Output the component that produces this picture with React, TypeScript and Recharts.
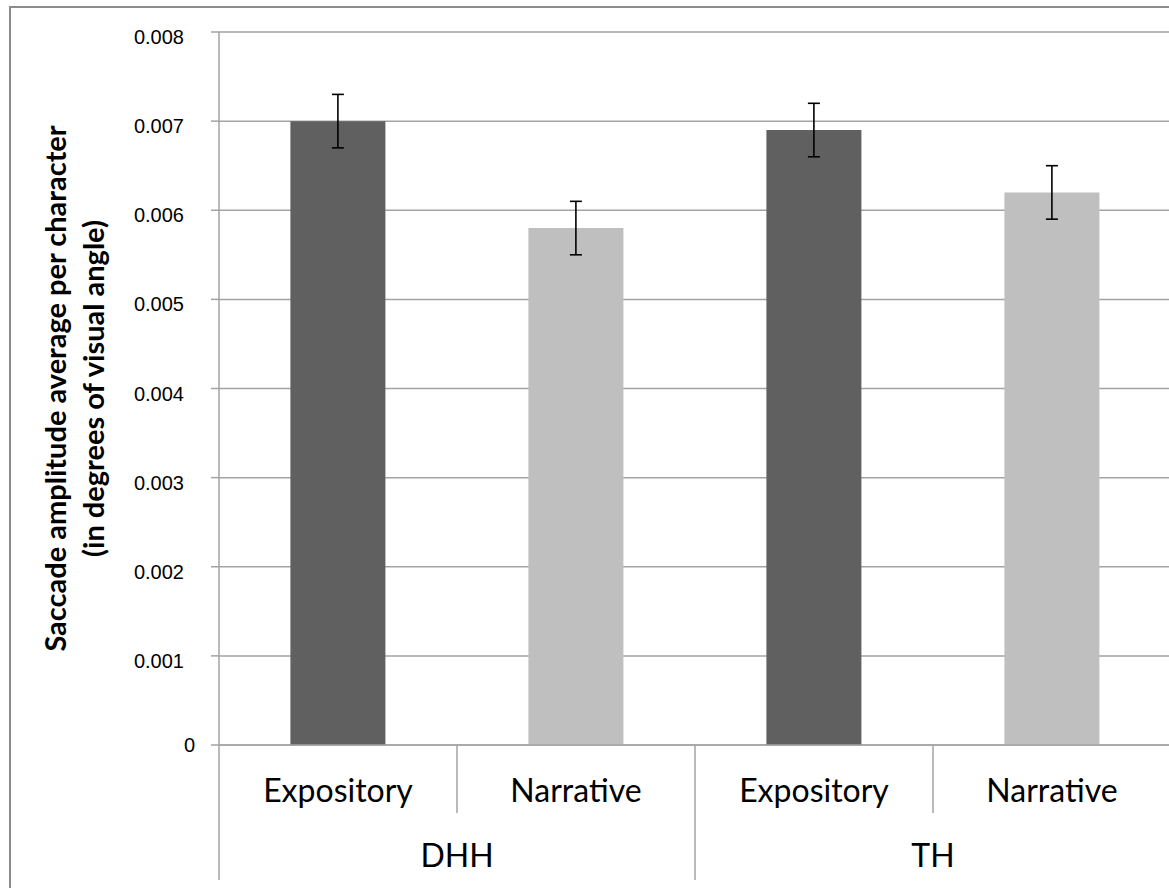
import React from 'react';
import { BarChart, Bar, XAxis, YAxis, CartesianGrid, ErrorBar, Cell } from 'recharts';

const groups = ['DHH', 'DHH', 'TH', 'TH'];
const categories = ['Expository', 'Narrative', 'Expository', 'Narrative'];
const values = [0.007, 0.0058, 0.0069, 0.0062];
const errors = [0.0003, 0.0003, 0.0003, 0.0003];
const yTicks = [0, 0.001, 0.002, 0.003, 0.004, 0.005, 0.006, 0.007, 0.008];
const yLabelLines = ['Saccade amplitude average per character', '(in degrees of visual angle)'];
const typeColors: Record<string, string> = { Expository: '#606060', Narrative: '#bfbfbf' };

const data = categories.map((c, i) => ({
  key: `${groups[i]}-${c}`,
  category: c,
  group: groups[i],
  value: values[i],
  err: errors[i],
}));

const GRID = '#a3a3a3';
const CAT_FONT = 'Lato, "Open Sans", sans-serif';

const XTick = (props: any) => {
  const { x, y, index, width, visibleTicksCount, payload } = props;
  const half = payload && payload.offset ? payload.offset : width / visibleTicksCount / 2;
  const d = data[index];
  const isGroupStart = index === 0 || data[index - 1].group !== d.group;
  const isLast = index === data.length - 1;
  const groupCount = data.filter((r) => r.group === d.group).length;
  return (
    <g>
      <line x1={x - half} x2={x - half} y1={y} y2={y + (isGroupStart ? 135 : 68)} stroke={GRID} strokeWidth={1.5} />
      {isLast && <line x1={x + half} x2={x + half} y1={y} y2={y + 135} stroke={GRID} strokeWidth={1.5} />}
      <text x={x} y={y + 57} textAnchor="middle" fontFamily={CAT_FONT} fontSize={32} fill="#000">
        {d.category}
      </text>
      {isGroupStart && (
        <text x={x - half + groupCount * half} y={y + 122} textAnchor="middle" fontFamily={CAT_FONT} fontSize={32} fill="#000">
          {d.group}
        </text>
      )}
    </g>
  );
};

const YTick = (props: any) => {
  const { x, y, payload } = props;
  const v = payload.value;
  const isZero = v === 0;
  return (
    <text
      x={isZero ? x + 11 : x}
      y={isZero ? y : y + 5}
      dy="0.355em"
      textAnchor="end"
      fontFamily='"Liberation Sans", Arial, sans-serif'
      fontSize={20}
      fill="#000"
    >
      {isZero ? '0' : v.toFixed(3)}
    </text>
  );
};

const YLabel = (props: any) => {
  const vb = props.viewBox || { x: 0, y: 32, width: 219, height: 713 };
  const cy = vb.y + vb.height / 2;
  const xs = [vb.x + 66, vb.x + 104];
  return (
    <g>
      {yLabelLines.map((t, i) => (
        <text
          key={i}
          x={xs[i]}
          y={cy}
          textAnchor="middle"
          transform={`rotate(-90, ${xs[i]}, ${cy})`}
          fontFamily={CAT_FONT}
          fontWeight="bold"
          fontSize={29}
          fill="#000"
        >
          {t}
        </text>
      ))}
    </g>
  );
};

export default function App() {
  return (
    <div style={{ position: 'absolute', left: 0, top: 0, width: 1169, height: 888, overflow: 'hidden', background: '#fff' }}>
      <div
        style={{
          position: 'absolute',
          left: 9,
          top: 6,
          width: 1400,
          height: 1200,
          borderLeft: '2px solid #8c8c8c',
          borderTop: '2px solid #8c8c8c',
          boxSizing: 'border-box',
        }}
      />
      <div style={{ position: 'absolute', left: 0, top: 0 }}>
        <BarChart width={1200} height={888} data={data} margin={{ top: 32, right: 29, bottom: 8, left: 0 }} barCategoryGap="30%">
          <CartesianGrid vertical={false} stroke={GRID} strokeWidth={1.5} />
          <XAxis
            dataKey="key"
            interval={0}
            height={135}
            tickLine={false}
            tickSize={0}
            tickMargin={0}
            axisLine={{ stroke: GRID, strokeWidth: 1.5 }}
            tick={<XTick />}
          />
          <YAxis
            width={219}
            domain={[0, 0.008]}
            ticks={yTicks}
            interval={0}
            tickSize={8}
            tickMargin={27}
            tickLine={{ stroke: GRID, strokeWidth: 1.5 }}
            axisLine={{ stroke: GRID, strokeWidth: 1.5 }}
            tick={<YTick />}
            label={(p: any) => <YLabel {...p} />}
          />
          <Bar dataKey="value" isAnimationActive={false}>
            {data.map((d, i) => (
              <Cell key={i} fill={typeColors[d.category]} />
            ))}
            <ErrorBar dataKey="err" width={6} stroke="#000" strokeWidth={1.6} direction="y" />
          </Bar>
        </BarChart>
      </div>
    </div>
  );
}
